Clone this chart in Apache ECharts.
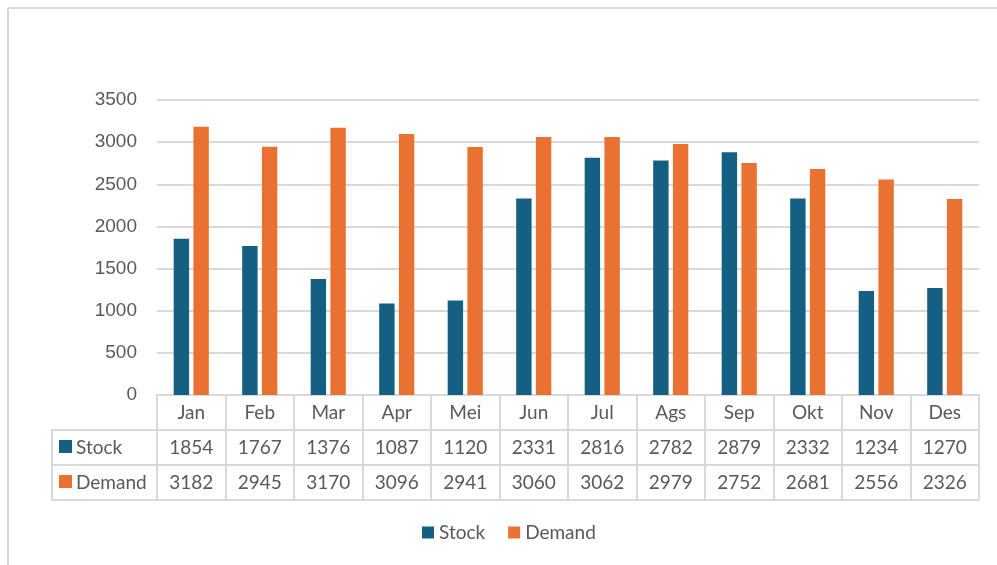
<!DOCTYPE html>
<html>
<head>
<meta charset="utf-8">
<style>
  html, body { margin: 0; padding: 0; background: #ffffff; }
  #chart { width: 997px; height: 565px; }
</style>
<script src="https://cdn.jsdelivr.net/npm/echarts@6/dist/echarts.min.js"></script>
</head>
<body>
<div id="chart"></div>
<script>
const months = ['Jan', 'Feb', 'Mar', 'Apr', 'Mei', 'Jun', 'Jul', 'Ags', 'Sep', 'Okt', 'Nov', 'Des'];
const stock = [1854, 1767, 1376, 1087, 1120, 2331, 2816, 2782, 2879, 2332, 1234, 1270];
const demand = [3182, 2945, 3170, 3096, 2941, 3060, 3062, 2979, 2752, 2681, 2556, 2326];
const seriesNames = ['Stock', 'Demand'];
const yTicks = { min: 0, max: 3500, interval: 500 };

const colors = ['#156082', '#E97132'];
const gridColor = '#d9d9d9';
const textColor = '#595959';
const tableFont = 'Lato, "Open Sans", sans-serif';
const axisFont = '"Liberation Sans", Arial, sans-serif';
const fs = 19;

const chart = echarts.init(document.getElementById('chart'));

const gridLeft = 157, gridRight = 997 - 979, gridTop = 100, gridBottomY = 395;
const rowH = 35;

function tableAxis(offset, formatter, showLabel, tickLen) {
  return {
    type: 'category',
    data: months,
    position: 'bottom',
    offset: offset,
    gridIndex: 0,
    axisLine: { show: true, lineStyle: { color: gridColor, width: 2 } },
    axisTick: tickLen ? { show: true, length: tickLen, alignWithLabel: false, lineStyle: { color: gridColor, width: 2 } } : { show: false },
    axisLabel: {
      show: showLabel,
      formatter: formatter,
      margin: 8,
      color: textColor,
      fontFamily: tableFont,
      fontSize: fs,
      interval: 0
    },
    splitLine: { show: false }
  };
}

const option = {
  backgroundColor: '#ffffff',
  color: colors,
  animation: false,
  grid: {
    left: gridLeft,
    right: gridRight,
    top: gridTop,
    bottom: 565 - gridBottomY,
    containLabel: false
  },
  legend: {
    data: seriesNames,
    bottom: 18,
    left: 417,
    icon: 'rect',
    itemWidth: 12,
    itemHeight: 12,
    itemGap: 23,
    textStyle: { color: textColor, fontFamily: tableFont, fontSize: fs }
  },
  xAxis: [
    tableAxis(0, (v) => v, true, rowH * 3),
    tableAxis(rowH, (v, i) => String(stock[i]), true, 0),
    tableAxis(rowH * 2, (v, i) => String(demand[i]), true, 0),
    tableAxis(rowH * 3, () => '', false, 0)
  ],
  yAxis: {
    type: 'value',
    min: yTicks.min,
    max: yTicks.max,
    interval: yTicks.interval,
    axisLine: { show: false },
    axisTick: { show: false },
    axisLabel: { color: textColor, fontFamily: axisFont, fontSize: fs, margin: 20, formatter: (v) => String(v) },
    splitLine: { lineStyle: { color: gridColor, width: 2 } }
  },
  series: [
    {
      name: seriesNames[0],
      type: 'bar',
      data: stock,
      xAxisIndex: 0,
      barWidth: '22.5%',
      barGap: '28%',
      itemStyle: { color: colors[0] }
    },
    {
      name: seriesNames[1],
      type: 'bar',
      data: demand,
      xAxisIndex: 0,
      barWidth: '22.5%',
      barGap: '28%',
      itemStyle: { color: colors[1] }
    }
  ],
  graphic: [
    { type: 'line', shape: { x1: 8, y1: 8, x2: 997, y2: 8 }, style: { stroke: gridColor, lineWidth: 2 } },
    { type: 'line', shape: { x1: 8, y1: 8, x2: 8, y2: 565 }, style: { stroke: gridColor, lineWidth: 2 } },
    { type: 'line', shape: { x1: 52, y1: gridBottomY + rowH, x2: gridLeft, y2: gridBottomY + rowH }, style: { stroke: gridColor, lineWidth: 2 } },
    { type: 'line', shape: { x1: 52, y1: gridBottomY + rowH * 2, x2: gridLeft, y2: gridBottomY + rowH * 2 }, style: { stroke: gridColor, lineWidth: 2 } },
    { type: 'line', shape: { x1: 52, y1: gridBottomY + rowH * 3, x2: gridLeft, y2: gridBottomY + rowH * 3 }, style: { stroke: gridColor, lineWidth: 2 } },
    { type: 'line', shape: { x1: 52, y1: gridBottomY + rowH - 1, x2: 52, y2: gridBottomY + rowH * 3 + 1 }, style: { stroke: gridColor, lineWidth: 2 } },
    { type: 'rect', shape: { x: 59, y: 440, width: 13, height: 13 }, style: { fill: colors[0] } },
    { type: 'rect', shape: { x: 59, y: 475, width: 13, height: 13 }, style: { fill: colors[1] } },
    { type: 'text', x: 76, y: 447.5, style: { text: seriesNames[0], fill: textColor, font: fs + 'px ' + tableFont, verticalAlign: 'middle', align: 'left' } },
    { type: 'text', x: 76, y: 482.5, style: { text: seriesNames[1], fill: textColor, font: fs + 'px ' + tableFont, verticalAlign: 'middle', align: 'left' } }
  ]
};

chart.setOption(option);
</script>
</body>
</html>
